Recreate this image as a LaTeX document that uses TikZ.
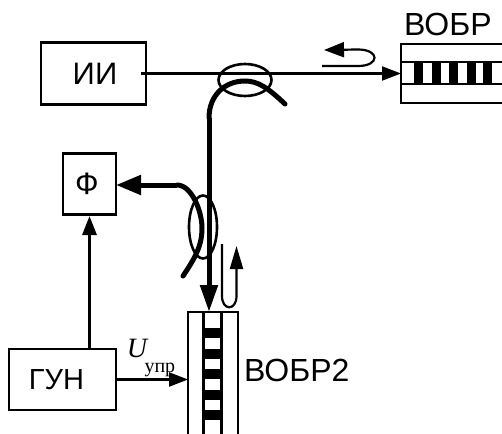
\documentclass[tikz,border=0pt]{standalone}
\usepackage{fontspec}
\setmainfont{Liberation Sans}
\newfontfamily\serifcyr{Liberation Serif}
\usetikzlibrary{positioning,shapes.geometric,arrows.meta}
\tikzset{
  box/.style={rectangle,draw,line width=2.8pt,outer sep=0pt,inner sep=0pt,font=\fontsize{31}{31}\selectfont},
  lbl/.style={inner sep=0pt,font=\fontsize{32}{32}\selectfont},
  gr/.style={rectangle,draw,line width=2.6pt,outer sep=0pt,inner sep=0pt},
  cpl/.style={ellipse,draw,line width=2.6pt,inner sep=0pt},
  fl/.style={-{Triangle[length=19pt,width=14pt]},line width=2.2pt},
  flc/.style={-{Triangle[length=19pt,width=14pt]},line width=3pt},
  fib/.style={line width=5pt,line cap=round},
  fibh/.style={-{Triangle[length=27pt,width=17pt]},line width=5pt},
}
\begin{document}
\begin{tikzpicture}[x=1pt,y=-1pt]
  \useasboundingbox (0,0) rectangle (502,433);
  \node[box,minimum width=105pt,minimum height=62pt] (ii) at (93.5,73.5) {\kern3pt ИИ};
  \node[box,minimum width=53pt,minimum height=61pt] (phi) at (89.5,184) {Ф\kern5pt};
  \node[box,minimum width=107pt,minimum height=61pt,font=\fontsize{29}{29}\selectfont] (gun) at (62.5,379.5) {ГУН\kern12pt};
  % gratings run past the page edge
  \node[gr,minimum width=120pt,minimum height=59pt] (vobr) at (461,73.5) {};
  \node[gr,minimum width=50pt,minimum height=140pt] (vobrb) at (213,382) {};
  \node[lbl,above=8pt of vobr.north west,xshift=3pt,anchor=south west] (vobrt) {ВОБР};
  \node[lbl,right=6pt of vobrb.east,yshift=12pt] (vobrbt) {ВОБР2};
  \draw[line width=2.6pt] (401,62) -- (510,62) (401,84) -- (510,84);
  \draw[line width=2.6pt] (203.5,312) -- (203.5,440) (221.5,312) -- (221.5,440);
  \foreach \x in {414,432,449,467,483} \fill (\x,62) rectangle (\x+9,84);
  \foreach \y in {328,349,369,390,410} \fill (203.5,\y) rectangle (221.5,\y+9.5);
  % signal lines
  \draw[fl] ([xshift=-5pt]ii.east) -- (vobr.west);
  \draw[flc,shorten >=1.5pt] (phi |- gun.north) -- (phi.south);
  \draw[fl] (gun.east) -- (gun.east -| vobrb.west);
  % fibres
  \coordinate (fa) at (285,104);
  \coordinate (fb) at (209,118);
  \coordinate (fc) at (209,312);
  \coordinate (fd) at (177,185);
  \coordinate (fe) at (183,276);
  \draw[fib] (fa) .. controls (268,88) and (258,81) .. (245,81) .. controls (225,81) and (209,95) .. (fb);
  \draw[fibh] (fb) -- (fc);
  \draw[fib] (fe) .. controls (195,258) and (202,246) .. (202,228) .. controls (202,212) and (192,185) .. (fd);
  \draw[fibh,-{Triangle[length=25pt,width=19pt]}] (fd) -- (phi.east |- fd);
  \node[cpl,minimum width=53pt,minimum height=32pt] (cpa) at (245,80) {};
  \node[cpl,minimum width=28pt,minimum height=63pt] (cpb) at (203,227) {};
  % return arrows
  \coordinate (ra) at (322,66);
  \coordinate (rb) at (324,50);
  \coordinate (rc) at (222,244);
  \coordinate (rd) at (236.5,246);
  \draw[fl,-{Triangle[length=20pt,width=15pt]}] (ra) -- (358,66) .. controls (380,66) and (380,49.5) .. (358,49.5) -- (rb);
  \draw[fl,-{Triangle[length=23pt,width=13pt]}] (rc) -- (222,296) .. controls (222,311) and (236.5,311) .. (236.5,296) -- (rd);
  \node[inner sep=0pt,font=\serifcyr\itshape\fontsize{28}{28}\selectfont] (ulab) at (137,348) {U};
  \node[inner sep=0pt,font=\serifcyr\fontsize{20}{20}\selectfont,right=0pt of ulab.south east,anchor=north west,xshift=-3pt,yshift=-5pt] (ulabs) {упр};
\end{tikzpicture}
\end{document}
